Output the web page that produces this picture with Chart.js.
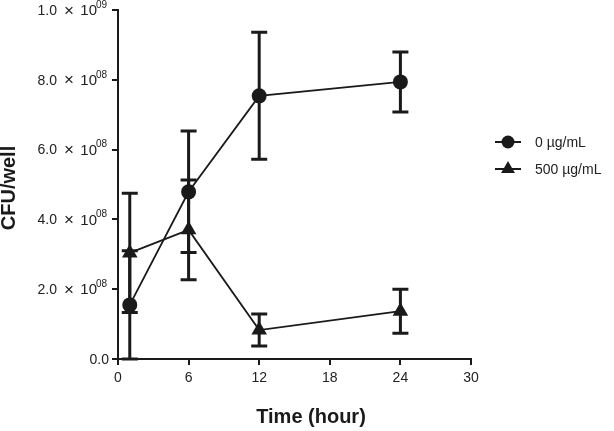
<!DOCTYPE html>
<html>
<head>
<meta charset="utf-8">
<script src="https://cdn.jsdelivr.net/npm/chart.js@4.4.1/dist/chart.umd.min.js"></script>
<style>
  html, body { margin: 0; padding: 0; background: #fff; }
  #grafico { display: block; }
</style>
</head>
<body>
<canvas id="grafico" width="614" height="431"></canvas>
<script>
// dados
const tempos = [1, 6, 12, 24];
const serieNomes = ["0 µg/mL", "500 µg/mL"];
const controle = [1.55e8, 4.79e8, 7.54e8, 7.94e8];
const controleErro = [1.55e8, 1.74e8, 1.82e8, 0.86e8];
const tratado = [3.04e8, 3.70e8, 0.83e8, 1.37e8];
const tratadoErro = [1.71e8, 1.43e8, 0.46e8, 0.63e8];
const rotulosY = [
    { v: 0, base: "0.0", exp: "" },
    { v: 2e8, base: "2.0", exp: "08" },
    { v: 4e8, base: "4.0", exp: "08" },
    { v: 6e8, base: "6.0", exp: "08" },
    { v: 8e8, base: "8.0", exp: "08" },
    { v: 1e9, base: "1.0", exp: "09" }
];

const PRETO = "#1a1a1a";
const FONTE = "'Liberation Sans', Arial, Helvetica, sans-serif";

// barras de erro, rótulos do eixo y, títulos e legenda
const pluginExtras = {
    id: "extras",
    afterDatasetsDraw(chart) {
        const ctx = chart.ctx;
        const xs = chart.scales.x;
        const ys = chart.scales.y;
        const erros = [controleErro, tratadoErro];

        ctx.save();
        ctx.strokeStyle = PRETO;
        ctx.lineWidth = 3;
        chart.data.datasets.forEach((ds, d) => {
            ds.data.forEach((p, i) => {
                const x = xs.getPixelForValue(p.x);
                const yTopo = ys.getPixelForValue(p.y + erros[d][i]);
                const yBase = ys.getPixelForValue(Math.max(0, p.y - erros[d][i]));
                ctx.beginPath();
                ctx.moveTo(x, yTopo);
                ctx.lineTo(x, yBase);
                ctx.moveTo(x - 8, yTopo);
                ctx.lineTo(x + 8, yTopo);
                ctx.moveTo(x - 8, yBase);
                ctx.lineTo(x + 8, yBase);
                ctx.stroke();
            });
        });
        ctx.restore();
    },
    afterDraw(chart) {
        const ctx = chart.ctx;
        const ys = chart.scales.y;
        const area = chart.chartArea;

        ctx.save();
        ctx.fillStyle = "#222";
        ctx.textBaseline = "middle";

        // rótulos do eixo y com expoente
        const direita = area.left - 11;
        rotulosY.forEach(r => {
            const y = ys.getPixelForValue(r.v);
            ctx.textAlign = "right";
            if (!r.exp) {
                ctx.font = "14px " + FONTE;
                ctx.fillText(r.base, direita + 2, y + 1);
                return;
            }
            ctx.font = "10px " + FONTE;
            ctx.fillText(r.exp, direita, y - 5);
            ctx.font = "15px " + FONTE;
            ctx.fillText("10", direita - 10, y + 1);
            ctx.font = "17px " + FONTE;
            ctx.textAlign = "center";
            ctx.fillText("×", direita - 38, y + 1);
            ctx.font = "14px " + FONTE;
            ctx.textAlign = "right";
            ctx.fillText(r.base, direita - 50, y + 1);
        });

        // títulos dos eixos
        ctx.fillStyle = PRETO;
        ctx.font = "bold 20px " + FONTE;
        ctx.textAlign = "center";
        ctx.fillText("Time (hour)", 311, 417);
        ctx.save();
        ctx.translate(9, 188);
        ctx.rotate(-Math.PI / 2);
        ctx.fillText("CFU/well", 0, 0);
        ctx.restore();

        // legenda
        const itens = [
            { y: 142, estilo: "circle", raio: 6.5 },
            { y: 169, estilo: "triangle", raio: 8 }
        ];
        itens.forEach((it, i) => {
            ctx.strokeStyle = PRETO;
            ctx.lineWidth = 2;
            ctx.beginPath();
            ctx.moveTo(495, it.y);
            ctx.lineTo(521, it.y);
            ctx.stroke();
            ctx.fillStyle = PRETO;
            Chart.helpers.drawPoint(ctx, { pointStyle: it.estilo, radius: it.raio, borderWidth: 0 }, 508, it.y);
            ctx.fillStyle = "#222";
            ctx.font = "14px " + FONTE;
            ctx.textAlign = "left";
            ctx.fillText(serieNomes[i], 535, it.y + 1);
        });
        ctx.restore();
    }
};

const ctx = document.getElementById("grafico").getContext("2d");

window.chartInstance = new Chart(ctx, {
    type: "line",
    data: {
        datasets: [
            {
                label: serieNomes[0],
                data: tempos.map((t, i) => ({ x: t, y: controle[i] })),
                borderColor: PRETO,
                backgroundColor: PRETO,
                borderWidth: 1.8,
                pointStyle: "circle",
                pointRadius: 7.5,
                pointBorderWidth: 0,
                tension: 0
            },
            {
                label: serieNomes[1],
                data: tempos.map((t, i) => ({ x: t, y: tratado[i] })),
                borderColor: PRETO,
                backgroundColor: PRETO,
                borderWidth: 1.8,
                pointStyle: "triangle",
                pointRadius: 9,
                pointBorderWidth: 0,
                tension: 0
            }
        ]
    },
    options: {
        responsive: false,
        devicePixelRatio: 1,
        animation: false,
        layout: { padding: { top: 10, right: 143, left: 0, bottom: 0 } },
        plugins: {
            legend: { display: false },
            tooltip: { enabled: false }
        },
        scales: {
            x: {
                type: "linear",
                min: 0,
                max: 30,
                ticks: {
                    stepSize: 6,
                    padding: 5,
                    color: "#222",
                    font: { size: 14, family: FONTE }
                },
                grid: {
                    drawOnChartArea: false,
                    drawTicks: true,
                    tickLength: 6,
                    lineWidth: 2,
                    color: PRETO
                },
                border: { color: PRETO, width: 2 },
                afterFit: s => { s.height = 72; }
            },
            y: {
                type: "linear",
                min: 0,
                max: 1e9,
                ticks: { stepSize: 2e8, display: false },
                grid: {
                    drawOnChartArea: false,
                    drawTicks: true,
                    tickLength: 6,
                    lineWidth: 2,
                    color: PRETO
                },
                border: { color: PRETO, width: 2 },
                afterFit: s => { s.width = 118; }
            }
        }
    },
    plugins: [pluginExtras]
});
</script>
</body>
</html>
